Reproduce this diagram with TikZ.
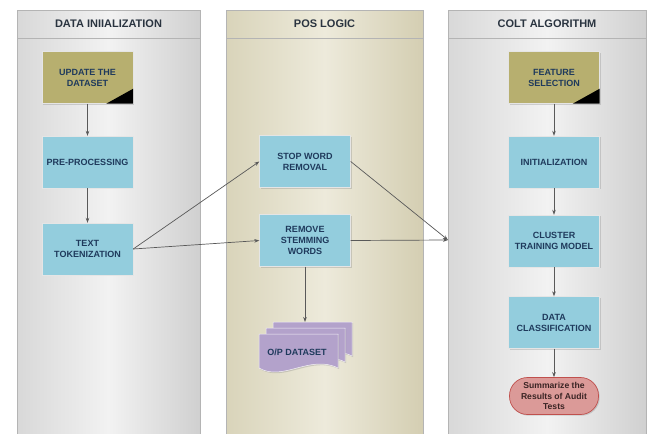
\documentclass[tikz,border=0pt]{standalone}
\usepackage{fontspec}
\setmainfont{Liberation Sans}
\usetikzlibrary{arrows.meta,shadows}
\definecolor{cOlive}{HTML}{B7AF6F}
\definecolor{cBlue}{HTML}{93CDDD}
\definecolor{cText}{HTML}{1F3A5C}
\definecolor{cHead}{HTML}{2A3440}
\definecolor{cPurple}{HTML}{B3A2CB}
\definecolor{cPink}{HTML}{DB9A98}
\definecolor{cPinkD}{HTML}{C0504D}
\definecolor{cSumText}{HTML}{3A2424}
\definecolor{cArrow}{HTML}{595959}
\definecolor{gL}{HTML}{D8D8D8}
\definecolor{gM}{HTML}{F2F2F2}
\definecolor{gR}{HTML}{D0D0D0}
\definecolor{kL}{HTML}{D9D4BA}
\definecolor{kM}{HTML}{EDEADB}
\definecolor{kR}{HTML}{D4CEB2}
\definecolor{cLane}{HTML}{B4B4B4}
\begin{document}
\begin{tikzpicture}[x=1pt,y=-1pt,
  boxfont/.style={font=\bfseries\fontsize{9}{11}\selectfont},
  box/.style={rectangle, minimum width=91pt, minimum height=52pt, align=center,
    text=cText, boxfont, draw=white!80!gray, line width=0.4pt,
    drop shadow={shadow xshift=1.2pt, shadow yshift=-1.2pt, opacity=0.3}},
  bluebox/.style={box, fill=cBlue},
  olivebox/.style={box, fill=cOlive},
  pill/.style={rectangle, rounded corners=18pt, minimum width=89pt, minimum height=37pt,
    inner sep=0.5pt, align=center, fill=cPink, draw=cPinkD, line width=0.7pt,
    text=cSumText, font=\bfseries\fontsize{8.6}{10.6}\selectfont,
    drop shadow={shadow xshift=1.2pt, shadow yshift=-1.2pt, opacity=0.3}},
  docbody/.style={fill=cPurple, draw=white!85!cPurple, line width=0.5pt,
    drop shadow={shadow xshift=1.2pt, shadow yshift=-1.2pt, opacity=0.3}},
  arr/.style={draw=cArrow, line width=0.7pt, -{Stealth[length=5pt,width=3.6pt]}},
  lanehead/.style={font=\bfseries\fontsize{11}{13}\selectfont, text=cHead},
  laneline/.style={draw=cLane, line width=0.6pt},
  sepline/.style={draw=cLane, line width=0.8pt}]
\useasboundingbox (0,0) rectangle (662,434);
\fill[white] (0,0) rectangle (662,434);

% lanes
\shade[left color=gL, right color=gR, middle color=gM] (17,10) rectangle (200,434);
\shade[left color=kL, right color=kR, middle color=kM] (226,10) rectangle (423,434);
\shade[left color=gL, right color=gR, middle color=gM] (448,10) rectangle (646,434);
\draw[laneline] (17,434) -- (17,10) -- (200,10) -- (200,434);
\draw[laneline] (226,434) -- (226,10) -- (423,10) -- (423,434);
\draw[laneline] (448,434) -- (448,10) -- (646,10) -- (646,434);
\draw[sepline] (17,38) -- (200,38);
\draw[sepline] (226,38) -- (423,38);
\draw[sepline] (448,38) -- (646,38);
\node[lanehead] (h1) at (108.5,23.5) {DATA INIIALIZATION};
\node[lanehead] (h2) at (324.5,23.5) {POS LOGIC};
\node[lanehead] (h3) at (547,23.5) {COLT ALGORITHM};

% lane 1
\node[olivebox] (upd) at (87.5,77.5) {UPDATE THE\\DATASET};
\fill[black] (upd.south east) -- ++(-27,0) -- ++(27,-15) -- cycle;
\node[bluebox] (pre) at (87.5,162) {PRE-PROCESSING};
\node[bluebox] (tok) at (87.5,249) {TEXT\\TOKENIZATION};

% lane 2
\node[bluebox] (stop) at (305,161.5) {STOP WORD\\REMOVAL};
\node[bluebox] (rem) at (305,240.5) {REMOVE\\STEMMING\\WORDS};
\foreach \dx/\dy in {14/-12, 7/-6, 0/0}{
  \path[docbody] (259+\dx,334+\dy) -- ++(79,0) -- ++(0,34)
    .. controls +(-28,-14) and +(24,14) .. ++(-79,0) -- cycle;
}
\node[boxfont, text=cText] (op) at (297,352) {O/P DATASET};
\coordinate (optop) at (305,322);

% lane 3
\node[olivebox] (feat) at (554,77.5) {FEATURE\\SELECTION};
\fill[black] (feat.south east) -- ++(-27,0) -- ++(27,-15) -- cycle;
\node[bluebox] (init) at (554,162) {INITIALIZATION};
\node[bluebox] (clus) at (554,241) {CLUSTER\\TRAINING MODEL};
\node[bluebox] (dcls) at (554,322.5) {DATA\\CLASSIFICATION};
\node[pill] (sum) at (554,396) {Summarize the\\Results of Audit\\Tests};
\coordinate (join) at (448,240);

% connectors
\draw[arr] (upd) -- (pre);
\draw[arr] (pre) -- (tok);
\draw[arr] (tok.east) -- (stop.west);
\draw[arr] (tok.east) -- (rem.west);
\draw[arr] (rem) -- (optop);
\draw[arr] (stop.east) -- (join);
\draw[arr] (rem.east) -- (join);
\draw[arr] (feat) -- (init);
\draw[arr] (init) -- (clus);
\draw[arr] (clus) -- (dcls);
\draw[arr] (dcls) -- (sum);
\end{tikzpicture}
\end{document}
